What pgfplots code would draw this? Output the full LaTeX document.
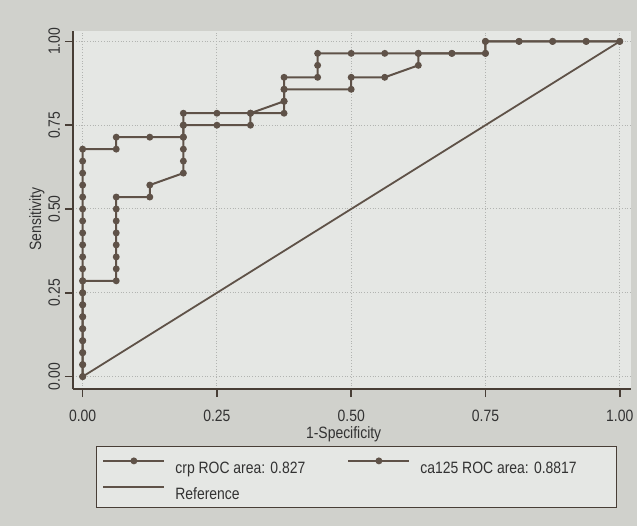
\documentclass[border=0pt]{standalone}
\usepackage{fontspec}
\setmainfont{Liberation Sans}[FakeStretch=0.85]
\usepackage{pgfplots}
\pgfplotsset{compat=1.18}
\definecolor{paper}{RGB}{208,209,204}
\definecolor{plotbg}{RGB}{229,231,228}
\definecolor{curve}{RGB}{95,82,72}
\definecolor{axisc}{RGB}{72,62,54}
\definecolor{gridc}{RGB}{178,180,177}
\definecolor{txt}{RGB}{50,50,50}
\newcommand\fsz{\fontsize{8.2}{10}\selectfont}

\begin{document}
\begin{tikzpicture}
\fill[paper] (-36.5pt,-68.5pt) rectangle (282pt,194.5pt);
\begin{axis}[
  scale only axis, width=279pt, height=179pt,
  xmin=-0.018, xmax=1.021, ymin=-0.037, ymax=1.031,
  axis x line*=bottom, axis y line*=left,
  axis line style={axisc, line width=1pt, -},
  axis background/.style={fill=plotbg},
  xtick={0,0.25,0.5,0.75,1}, ytick={0,0.25,0.5,0.75,1},
  xticklabels={0.00,0.25,0.50,0.75,1.00},
  yticklabels={0.00,0.25,0.50,0.75,1.00},
  tick align=outside, major tick length=4pt,
  tick style={axisc, line width=0.8pt},
  grid=major, major grid style={gridc, densely dotted, line width=0.5pt},
  tick label style={font=\fsz, text=txt},
  xticklabel shift=3pt, yticklabel shift=-1pt,
  yticklabel style={rotate=90, anchor=south},
  xlabel={1-Specificity}, ylabel={Sensitivity},
  every axis x label/.style={at={(axis description cs:0.485,-0.127)}, anchor=center, font=\fsz, text=txt},
  every axis y label/.style={at={(axis description cs:-0.0645,0.475)}, rotate=90, anchor=center, font=\fsz, text=txt},
  legend columns=2,
  legend image code/.code={\draw[mark repeat=2,mark phase=2,#1] plot coordinates {(0pt,1.5pt) (15.25pt,1.5pt) (30.5pt,1.5pt)};},
  legend style={at={(0.04122,-0.1592)}, anchor=north west, draw=axisc, fill=plotbg,
    inner xsep=3pt, inner ysep=3pt, font=\fsz, text=txt,
    nodes={inner sep=0pt, text height=10.5pt, text depth=1pt},
    row sep=1.5pt, column sep=5pt},
  legend cell align=left,
]
\addplot[curve, line width=1pt, mark=*, mark size=1.2pt, mark options={solid, fill=curve, draw=curve}]
  table {
x y
0 0
0 0.0357
0 0.0714
0 0.1071
0 0.1429
0 0.1786
0 0.2143
0 0.25
0 0.2857
0.0625 0.2857
0.0625 0.3214
0.0625 0.3571
0.0625 0.3929
0.0625 0.4286
0.0625 0.4643
0.0625 0.5
0.0625 0.5357
0.125 0.5357
0.125 0.5714
0.1875 0.6071
0.1875 0.6429
0.1875 0.6786
0.1875 0.7143
0.1875 0.75
0.25 0.75
0.3125 0.75
0.3125 0.7857
0.375 0.7857
0.375 0.8214
0.375 0.8571
0.5 0.8571
0.5 0.8929
0.5625 0.8929
0.625 0.9286
0.625 0.9643
0.6875 0.9643
0.75 0.9643
0.75 1
0.8125 1
0.875 1
0.9375 1
1 1
};
\addlegendentry{\makebox[81pt][l]{crp ROC area: 0.827}}
\addplot[curve, line width=1pt, mark=*, mark size=1.2pt, mark options={solid, fill=curve, draw=curve}]
  table {
x y
0 0
0 0.0357
0 0.0714
0 0.1071
0 0.1429
0 0.1786
0 0.2143
0 0.25
0 0.2857
0 0.3214
0 0.3571
0 0.3929
0 0.4286
0 0.4643
0 0.5
0 0.5357
0 0.5714
0 0.6071
0 0.6429
0 0.6786
0.0625 0.6786
0.0625 0.7143
0.125 0.7143
0.1875 0.7143
0.1875 0.75
0.1875 0.7857
0.25 0.7857
0.3125 0.7857
0.375 0.8214
0.375 0.8571
0.375 0.8929
0.4375 0.8929
0.4375 0.9286
0.4375 0.9643
0.5 0.9643
0.5625 0.9643
0.625 0.9643
0.6875 0.9643
0.75 0.9643
0.75 1
0.8125 1
0.875 1
0.9375 1
1 1
};
\addlegendentry{\makebox[95pt][l]{ca125 ROC area: 0.8817}}
\addplot[curve, line width=0.9pt] coordinates {(0,0) (1,1)};
\addlegendentry{Reference}
\end{axis}
\pgfresetboundingbox
\useasboundingbox (-36.5pt,-68.5pt) rectangle (282pt,194.5pt);
\end{tikzpicture}
\end{document}
